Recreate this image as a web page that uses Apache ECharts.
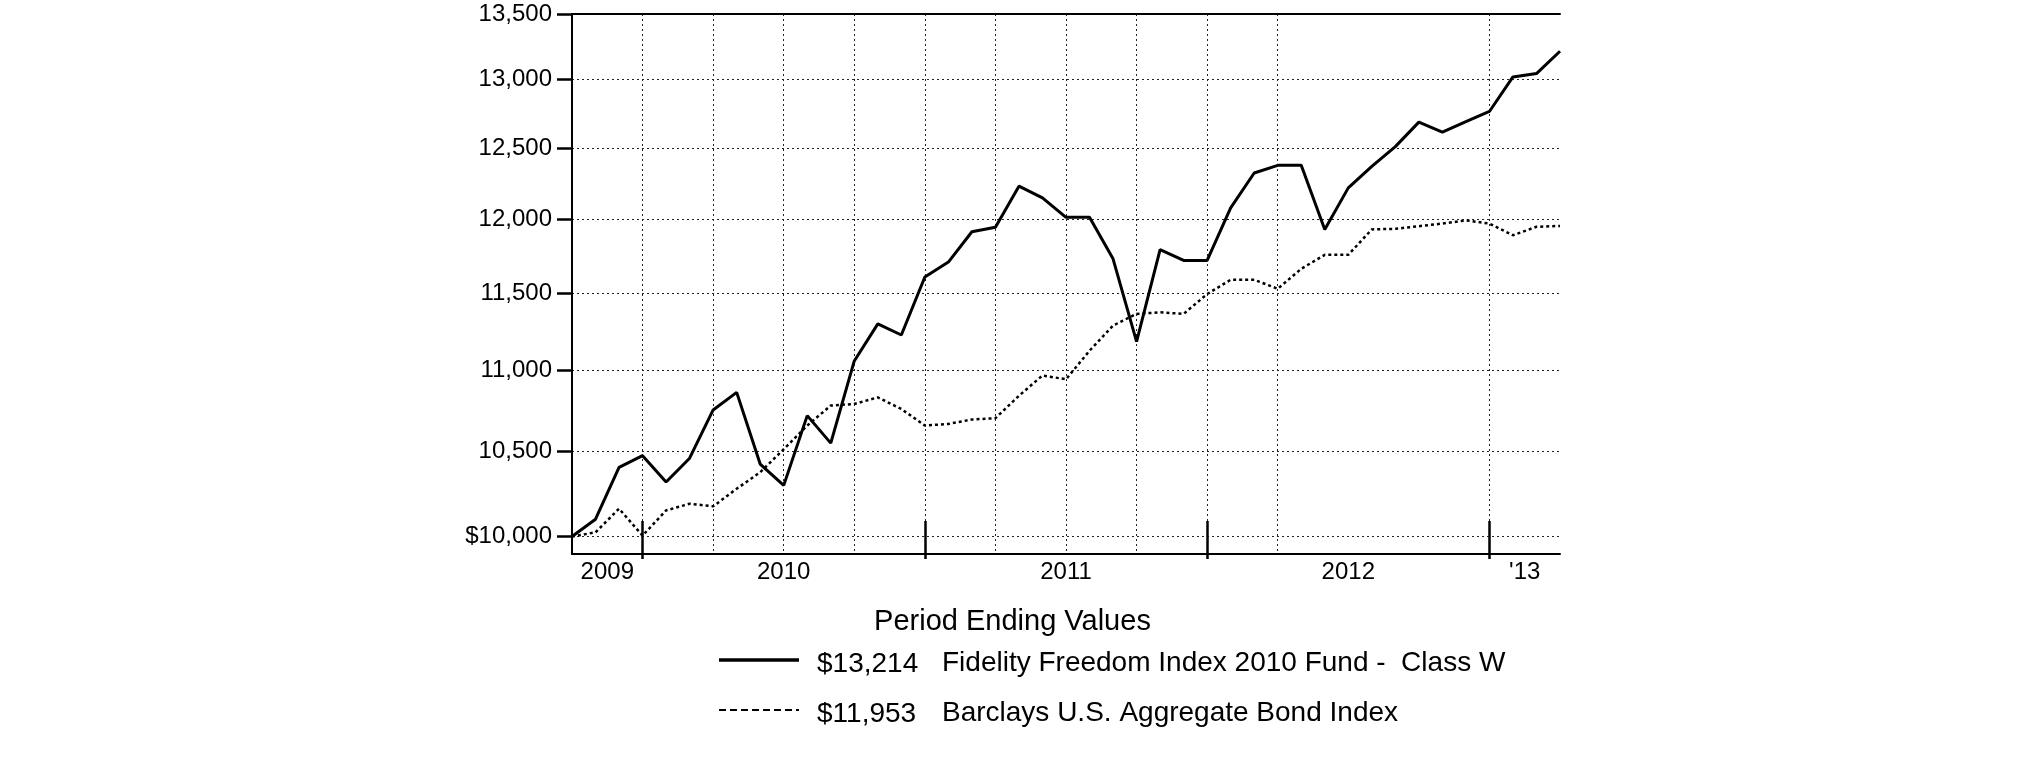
<!DOCTYPE html>
<html>
<head>
<meta charset="utf-8">
<script src="https://cdn.jsdelivr.net/npm/echarts@6/dist/echarts.min.js"></script>
<style>
html,body{margin:0;padding:0;background:#fff;}
#chart{width:2025px;height:761px;}
</style>
</head>
<body>
<div id="chart"></div>
<script>
// Month-end dates (first = inception)
var categories = [
  '2009-10-02','2009-10','2009-11','2009-12',
  '2010-01','2010-02','2010-03','2010-04','2010-05','2010-06','2010-07','2010-08','2010-09','2010-10','2010-11','2010-12',
  '2011-01','2011-02','2011-03','2011-04','2011-05','2011-06','2011-07','2011-08','2011-09','2011-10','2011-11','2011-12',
  '2012-01','2012-02','2012-03','2012-04','2012-05','2012-06','2012-07','2012-08','2012-09','2012-10','2012-11','2012-12',
  '2013-01','2013-02','2013-03'
];
var fundName = 'Fidelity Freedom Index 2010 Fund -  Class W';
var bondName = 'Barclays U.S. Aggregate Bond Index';
var fundValues = [
  10000,10100,10405,10475,
  10318,10460,10754,10863,10425,10298,10719,10551,11061,11299,11227,11607,
  11707,11913,11944,12229,12147,12012,12012,11729,11184,11791,11718,11718,
  12077,12322,12376,12376,11929,12217,12369,12510,12687,12614,12690,12765,
  13021,13046,13214
];
var bondValues = [
  10000,10024,10161,10005,
  10151,10190,10175,10278,10376,10514,10658,10781,10791,10832,10760,10658,
  10668,10695,10703,10842,10969,10945,11126,11288,11364,11374,11364,11494,
  11589,11589,11529,11662,11756,11756,11929,11933,11951,11969,11991,11969,
  11889,11947,11953
];
var yTicks = [10000,10500,11000,11500,12000,12500,13000,13500];
var yTickLabels = ['$10,000','10,500','11,000','11,500','12,000','12,500','13,000','13,500'];
var yearTickIdx = [3,15,27,39];            // year boundaries (Dec month-ends)
var gridIdx = [3,6,9,12,15,18,21,24,27,30,39];
var yearLabelPos = [1.5,9,21,33,40.5];
var yearLabels = ['2009','2010','2011','2012','\'13'];
var axisTitle = 'Period Ending Values';

var FONT = '"Liberation Sans", Arial, Helvetica, sans-serif';
function money(v){ return '$' + v.toLocaleString('en-US'); }
var fundEnd = money(fundValues[fundValues.length-1]);
var bondEnd = money(bondValues[bondValues.length-1]);

var chart = echarts.init(document.getElementById('chart'), null, {renderer:'canvas'});
var dotted = {color:'#222', width:1, type:[2,3]};
function legendRow(y, lineStyle, value, name){
  return [
    {type:'line', shape:{x1:719, y1:y-3, x2:799, y2:y-3}, style:lineStyle, silent:true},
    {type:'text', x:817, y:y+1, silent:true,
      style:{text:value, fill:'#000', fontFamily:FONT, fontSize:28, align:'left', verticalAlign:'middle'}},
    {type:'text', x:942, y:y, silent:true,
      style:{text:name, fill:'#000', fontFamily:FONT, fontSize:28, align:'left', verticalAlign:'middle'}}
  ];
}
var option = {
  backgroundColor:'#fff',
  animation:false,
  textStyle:{fontFamily:FONT, color:'#000'},
  title:{
    text:axisTitle, left:'center', top:607, padding:0,
    textStyle:{fontFamily:FONT, fontSize:29, fontWeight:'normal', color:'#000'}
  },
  graphic:[].concat(
    legendRow(663, {stroke:'#000', lineWidth:3.3}, fundEnd, fundName),
    legendRow(713, {stroke:'#000', lineWidth:2, lineDash:[7,4]}, bondEnd, bondName)
  ),
  grid:{left:572, right:465, top:14, bottom:207, containLabel:false},
  xAxis:[
    {
      type:'category', data:categories, boundaryGap:false, position:'bottom',
      axisLine:{show:true, lineStyle:{color:'#000', width:2}},
      axisTick:{show:true, inside:true, length:33, lineStyle:{color:'#000', width:2.5},
        interval:function(i){ return yearTickIdx.indexOf(i) >= 0; }},
      axisLabel:{show:false},
      splitLine:{show:true, lineStyle:dotted,
        interval:function(i){ return gridIdx.indexOf(i) >= 0; }}
    },
    {
      type:'value', min:0, max:categories.length-1, position:'bottom',
      axisLine:{show:false},
      axisTick:{show:true, inside:false, length:5, customValues:yearTickIdx, lineStyle:{color:'#000', width:2.5}},
      axisLabel:{show:true, customValues:yearLabelPos, margin:6, fontFamily:FONT, fontSize:24, color:'#000',
        formatter:function(v){ var k = yearLabelPos.indexOf(v); return k >= 0 ? yearLabels[k] : ''; }},
      splitLine:{show:false}
    },
    {
      type:'value', min:0, max:categories.length-1, position:'top',
      axisLine:{show:true, lineStyle:{color:'#000', width:2}},
      axisTick:{show:false}, axisLabel:{show:false}, splitLine:{show:false}
    }
  ],
  yAxis:{
    type:'log', logBase:10, min:9900, max:13500,
    axisLine:{show:true, lineStyle:{color:'#000', width:2}},
    axisTick:{show:true, inside:false, length:15, customValues:yTicks, lineStyle:{color:'#000', width:2.5}},
    axisLabel:{show:true, customValues:yTicks, margin:20, fontFamily:FONT, fontSize:24, color:'#000',
      formatter:function(v){ var k = yTicks.indexOf(Math.round(v)); return k >= 0 ? yTickLabels[k] : ''; }},
    splitLine:{show:true, lineStyle:dotted}
  },
  series:[
    {
      name:fundName, type:'line', xAxisIndex:0, yAxisIndex:0, data:fundValues,
      symbol:'none', lineStyle:{color:'#000', width:3, type:'solid'}, z:4
    },
    {
      name:bondName, type:'line', xAxisIndex:0, yAxisIndex:0, data:bondValues,
      symbol:'none', lineStyle:{color:'#000', width:2.5, type:[3,3]}, z:3
    }
  ]
};
chart.setOption(option);
</script>
</body>
</html>
